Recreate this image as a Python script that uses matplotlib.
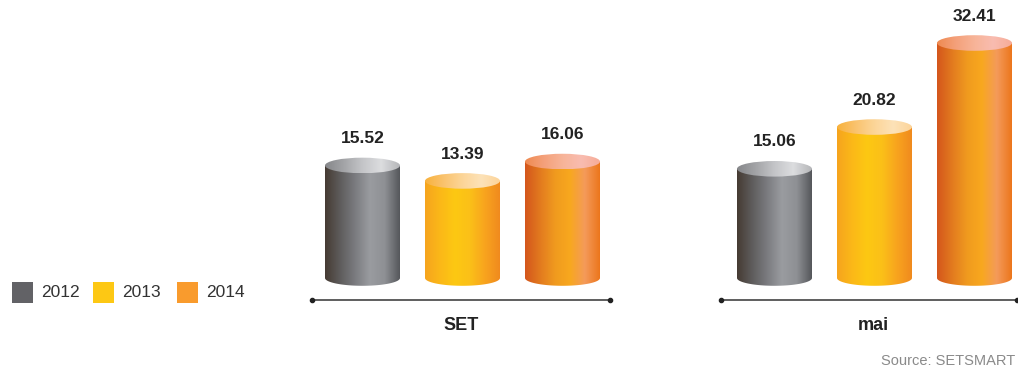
import numpy as np
import matplotlib
matplotlib.use("Agg")
import matplotlib.pyplot as plt
from matplotlib.colors import LinearSegmentedColormap
from matplotlib.patches import Ellipse, Rectangle
from matplotlib.path import Path

# data
groups = ["SET", "mai"]
years = ["2012", "2013", "2014"]
values = {
    "SET": [15.52, 13.39, 16.06],
    "mai": [15.06, 20.82, 32.41],
}
legend_colors = ["#626266", "#fdc814", "#f99b2d"]

# gradients (left -> right) for body and top of each year
body_grad = [
    ["#463b33", "#5e5c5c", "#7a7b7f", "#9a9ca0", "#8e9094", "#55575b"],
    ["#f6a41e", "#fbb818", "#fdc812", "#fbc018", "#f8a41e", "#f08a1e"],
    ["#d4561c", "#e27a1f", "#f09a1f", "#f8a81e", "#f49a5a", "#ec761c"],
]
top_grad = [
    ["#86878a", "#a3a4a7", "#c4c5c8", "#dcdddf", "#b5b6b9"],
    ["#f8b13c", "#fac36e", "#fcd598", "#fde2b8", "#fcd49a"],
    ["#ef8a50", "#f4a07a", "#f7b498", "#f9bcb0", "#f6ac98"],
]

# layout (x in pixel-like units, y in value units)
group_center = [462.5, 874.5]
offsets = [-100, 0, 100]
bar_w = 75
ell_h = 2.15
axis_span = [(312, 610), (721, 1017)]

fig = plt.figure(figsize=(10.18, 3.69), dpi=100)
ax = fig.add_axes([0, 0, 1, 1])
ax.set_xlim(0, 1018)
ax.set_ylim(-12.55, 38.34)
ax.axis("off")

grad_img = np.linspace(0, 1, 256).reshape(1, -1)

for g, name in enumerate(groups):
    for i, v in enumerate(values[name]):
        xc = group_center[g] + offsets[i]
        x0, x1 = xc - bar_w / 2, xc + bar_w / 2
        # body path: rectangle + lower half ellipse
        t = np.linspace(np.pi, 2 * np.pi, 60)
        arc = np.column_stack([xc + bar_w / 2 * np.cos(t), ell_h / 2 * np.sin(t)])
        verts = np.vstack([[x0, v], arc, [x1, v], [x0, v]])
        cmap = LinearSegmentedColormap.from_list("b", body_grad[i])
        im = ax.imshow(grad_img, cmap=cmap, aspect="auto",
                       extent=[x0, x1, -ell_h, v], zorder=2)
        patch = plt.Polygon(verts, closed=True, transform=ax.transData)
        im.set_clip_path(patch)
        # top ellipse
        top = Ellipse((xc, v), bar_w, ell_h, transform=ax.transData)
        cmap_t = LinearSegmentedColormap.from_list("t", top_grad[i])
        im2 = ax.imshow(grad_img, cmap=cmap_t, aspect="auto",
                        extent=[x0, x1, v - ell_h / 2, v + ell_h / 2], zorder=3)
        im2.set_clip_path(top)
        ax.text(xc, v + ell_h / 2 + 1.6, f"{v:.2f}", ha="center", va="bottom",
                fontsize=12.5, fontweight="bold", color="#222222",
                family="Liberation Sans")
    # axis line with end dots
    xa, xb = axis_span[g]
    ax.plot([xa, xb], [-3.0, -3.0], color="#333333", lw=1.1, zorder=1)
    ax.plot([xa, xb], [-3.0, -3.0], "o", color="#222222", ms=3, zorder=1)
    ax.text(group_center[g] - 1, -6.5, name, ha="center", va="center",
            fontsize=13, fontweight="bold", color="#222222",
            family="Liberation Sans")

# legend
leg_x = [12, 93, 177]
for k, yr in enumerate(years):
    ax.add_patch(Rectangle((leg_x[k], -3.45), 21, 2.9, color=legend_colors[k],
                           lw=0, zorder=2))
    ax.text(leg_x[k] + 29, -2.0, yr, ha="left", va="center", fontsize=12.5,
            color="#333333", family="Liberation Sans")

ax.text(1015, -11.45, "Source: SETSMART", ha="right", va="center",
        fontsize=10.5, color="#8a8a8a", family="Liberation Sans")

fig.savefig("out.png", dpi=100)
